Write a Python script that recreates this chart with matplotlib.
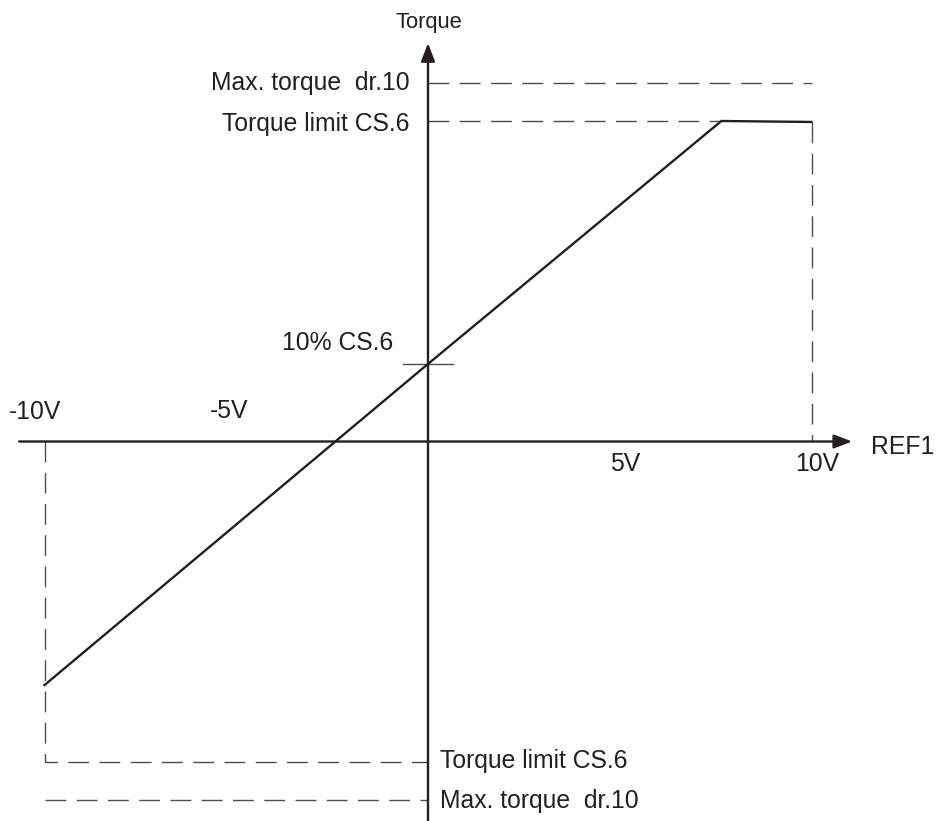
import matplotlib
matplotlib.use("Agg")
import matplotlib.pyplot as plt

plt.rcParams['font.family'] = ['Liberation Sans', 'DejaVu Sans']

# ---- data (volts / torque units, torque limit = 100) ----
ref_volts = [-10, 0, 7.65, 10]
torque_out = [-76, 24.2, 100, 99.7]
torque_limit = 100
max_torque = 112
ten_pct_point = 24.2
v_min, v_max = -10, 10
x_tick_values = [-10, -5, 5, 10]
x_tick_labels = ["-10V", "-5V", "5V", "10V"]

INK = "#231f20"
DASH = "#4d4d4d"

fig = plt.figure(figsize=(9.38, 8.21), dpi=100)
ax = fig.add_axes([0, 0, 1, 1])
px_per_v = 38.35
px_per_t = 3.205
ax.set_xlim(-428 / px_per_v, (938 - 428) / px_per_v)
ax.set_ylim((441.5 - 821) / px_per_t, 441.5 / px_per_t)
ax.axis("off")

dash_kw = dict(color=DASH, lw=1.0, dashes=(15, 7.5))

# dashed guide lines
ax.plot([0, v_max], [max_torque, max_torque], **dash_kw)
ax.plot([0, ref_volts[2]], [torque_limit, torque_limit], **dash_kw)
ax.plot([v_max, v_max], [torque_out[-1], 0], **dash_kw)
ax.plot([v_min, v_min, 0], [0, -torque_limit, -torque_limit], **dash_kw)
ax.plot([v_min, 0], [-max_torque, -max_torque], **dash_kw)

# 10% tick
ax.plot([-0.65, 0.65], [ten_pct_point, ten_pct_point], color=DASH, lw=1.0)

# axes with arrows
arrow = dict(arrowstyle="-|>,head_length=1.1,head_width=0.42", lw=1.7,
             color=INK, shrinkA=0, shrinkB=0, mutation_scale=10)
ax.annotate("", xy=(11.06, 0), xytext=(-10.66, 0), arrowprops=arrow)
ax.annotate("", xy=(0, 124.3), xytext=(0, -118.4), arrowprops=arrow)

# characteristic line
ax.plot(ref_volts, torque_out, color=INK, lw=1.7, solid_joinstyle="miter")

fs = 17.8
tk = dict(color=INK, fontsize=fs, textcoords="offset pixels")

# x tick labels
offsets = [(-9, 30), (-7, 31), (5, -22), (6, -22)]
for v, lab, (dx, dy) in zip(x_tick_values, x_tick_labels, offsets):
    ax.annotate(lab, xy=(v, 0), xytext=(dx, dy), ha="center", va="center", **tk)

ax.annotate("REF1", xy=(11.06, 0), xytext=(19, -5), ha="left", va="center", **tk)
ax.annotate("Torque", xy=(0, 124.3), xytext=(1, 21), ha="center", va="center",
            color=INK, fontsize=15.8, textcoords="offset pixels")
ax.annotate("Max. torque  dr.10", xy=(0, max_torque), xytext=(-18, 0),
            ha="right", va="center", **tk)
ax.annotate("Torque limit CS.6", xy=(0, torque_limit), xytext=(-18, -3),
            ha="right", va="center", **tk)
ax.annotate("10% CS.6", xy=(0, ten_pct_point), xytext=(-35, 21),
            ha="right", va="center", **tk)
ax.annotate("Torque limit CS.6", xy=(0, -torque_limit), xytext=(12, 1),
            ha="left", va="center", **tk)
ax.annotate("Max. torque  dr.10", xy=(0, -max_torque), xytext=(12, -1),
            ha="left", va="center", **tk)

fig.savefig("out.png", dpi=100)
